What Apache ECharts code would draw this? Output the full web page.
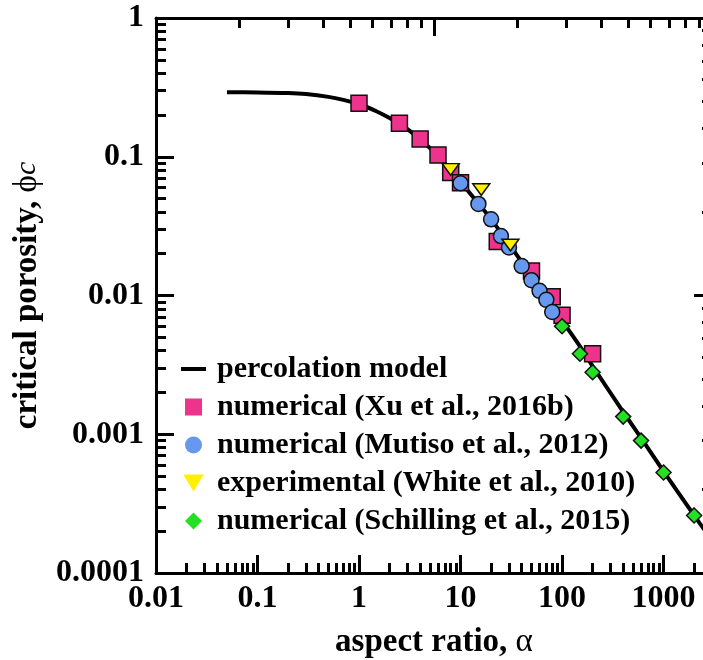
<!DOCTYPE html>
<html>
<head>
<meta charset="utf-8">
<script src="https://cdn.jsdelivr.net/npm/echarts@6/dist/echarts.min.js"></script>
<style>
html,body{margin:0;padding:0;background:#fff;}
#chart{width:703px;height:660px;}
</style>
</head>
<body>
<div id="chart"></div>
<script>
// ---- data ----
const modelAlpha = [0.05, 0.1, 0.2, 0.3, 0.5, 0.7, 1, 1.5, 2, 2.5, 3, 4, 6, 8, 10, 15, 20, 30, 50, 70, 100, 150, 200, 400, 600, 1000, 2000, 3000];
const modelPhi   = [0.292, 0.291, 0.288, 0.283, 0.270, 0.257, 0.240, 0.212, 0.190, 0.172, 0.158, 0.133, 0.102, 0.080, 0.066, 0.046, 0.0355, 0.0235, 0.0139, 0.0098, 0.0066, 0.0043, 0.0031, 0.00145, 0.00094, 0.00054, 0.00026, 0.000172];

const xuAlpha = [1, 2.5, 4, 6, 8, 10, 23, 50, 80, 100, 200];
const xuPhi   = [0.243, 0.174, 0.134, 0.103, 0.077, 0.065, 0.0245, 0.0150, 0.0098, 0.0072, 0.0038];

const mutisoAlpha = [10, 15, 20, 25, 30, 40, 50, 60, 70, 80];
const mutisoPhi   = [0.0644, 0.0457, 0.0354, 0.0268, 0.0222, 0.0163, 0.0129, 0.0108, 0.0093, 0.0076];

const whiteAlpha = [8, 16, 31];
const whitePhi   = [0.081, 0.058, 0.0231];

const schillingAlpha = [100, 150, 200, 400, 600, 1000, 2000];
const schillingPhi   = [0.0060, 0.0038, 0.0028, 0.00134, 0.00090, 0.00053, 0.00026];

const xTickValues = [0.01, 0.1, 1, 10, 100, 1000];
const xTickLabels = ['0.01', '0.1', '1', '10', '100', '1000'];
const yTickValues = [0.0001, 0.001, 0.01, 0.1, 1];
const yTickLabels = ['0.0001', '0.001', '0.01', '0.1', '1'];
const xMinorValues = [0.02,0.03,0.04,0.05,0.06,0.07,0.08,0.09, 0.2,0.3,0.4,0.5,0.6,0.7,0.8,0.9, 2,3,4,5,6,7,8,9, 20,30,40,50,60,70,80,90, 200,300,400,500,600,700,800,900, 2000];
const yMinorValues = [0.0002,0.0003,0.0004,0.0005,0.0006,0.0007,0.0008,0.0009, 0.002,0.003,0.004,0.005,0.006,0.007,0.008,0.009, 0.02,0.03,0.04,0.05,0.06,0.07,0.08,0.09, 0.2,0.3,0.4,0.5,0.6,0.7,0.8,0.9];
// secondary (top / right) frame axes
const frameMajor = [10];
const frameMinor = [2,3,4,5,6,7,8,9, 20,30,40,50,60,70,80,90];

const names = ['percolation model', 'numerical (Xu et al., 2016b)', 'numerical (Mutiso et al., 2012)', 'experimental (White et al., 2010)', 'numerical (Schilling et al., 2015)'];

// ---- chart ----
const FONT = '"Liberation Serif", "Times New Roman", serif';
const pairs = (a, b) => a.map((v, i) => [v, b[i]]);
function labelFor(values, labels) {
  return function (v) {
    for (let i = 0; i < values.length; i++) {
      if (Math.abs(Math.log10(v) - Math.log10(values[i])) < 1e-6) return labels[i];
    }
    return '';
  };
}
const tickLine = { color: '#000', width: 3 };
const SQUARE = 'path://M0,0L10,0L10,10L0,10Z';
const TRI_DOWN = 'path://M0,0L12,0L6,10Z';
const DIAMOND = 'path://M5,0L10,5L5,10L0,5Z';

const chart = echarts.init(document.getElementById('chart'), null, { renderer: 'canvas' });
chart.setOption({
  animation: false,
  backgroundColor: '#fff',
  grid: { left: 156, top: 18, right: -9, bottom: 87, containLabel: false, outerBoundsMode: 'none' },
  legend: {
    orient: 'vertical', left: 174, top: 349,
    itemWidth: 25, itemHeight: 17, itemGap: 8,
    itemStyle: { borderWidth: 0 },
    data: [
      { name: names[0], itemStyle: { opacity: 0 }, lineStyle: { color: '#000', width: 4, opacity: 1 } },
      names[1], names[2], names[3], names[4]
    ],
    textStyle: { fontFamily: FONT, fontSize: 30, fontWeight: 'bold', color: '#000', lineHeight: 30, padding: [0, 0, 0, 6] }
  },
  xAxis: [
    {
      type: 'log', logBase: 10, min: 0.01, max: 3000, position: 'bottom',
      name: 'aspect ratio, {g|α}', nameLocation: 'middle', nameGap: 53, nameMoveOverlap: false,
      nameTextStyle: { fontFamily: FONT, fontSize: 33, fontWeight: 'bold', color: '#000',
        rich: { g: { fontFamily: FONT, fontSize: 33, fontWeight: 'normal', color: '#000' } } },
      axisLine: { show: true, onZero: false, lineStyle: { color: '#000', width: 3 } },
      axisTick: { show: true, inside: true, length: 18, lineStyle: tickLine, customValues: xTickValues },
      axisLabel: { show: true, margin: 10, fontFamily: FONT, fontSize: 32, fontWeight: 'bold', color: '#000',
        customValues: xTickValues, formatter: labelFor(xTickValues, xTickLabels) },
      splitLine: { show: false }
    },
    {
      type: 'log', logBase: 10, min: 0.01, max: 3000, position: 'bottom',
      axisLine: { show: false }, axisLabel: { show: false }, splitLine: { show: false },
      axisTick: { show: true, inside: true, length: 10, lineStyle: tickLine, customValues: xMinorValues }
    },
    {
      type: 'log', logBase: 10, min: 1, max: 100, position: 'top',
      axisLine: { show: true, onZero: false, lineStyle: { color: '#000', width: 3 } },
      axisLabel: { show: false }, splitLine: { show: false },
      axisTick: { show: true, inside: true, length: 18, lineStyle: tickLine, customValues: frameMajor }
    },
    {
      type: 'log', logBase: 10, min: 1, max: 100, position: 'top',
      axisLine: { show: false }, axisLabel: { show: false }, splitLine: { show: false },
      axisTick: { show: true, inside: true, length: 10, lineStyle: tickLine, customValues: frameMinor }
    }
  ],
  yAxis: [
    {
      type: 'log', logBase: 10, min: 0.0001, max: 1, position: 'left',
      name: 'critical porosity, {g|ϕ}{s|c}', nameLocation: 'middle', nameGap: 112, nameMoveOverlap: false,
      nameTextStyle: { fontFamily: FONT, fontSize: 33, fontWeight: 'bold', color: '#000',
        rich: {
          g: { fontFamily: FONT, fontSize: 33, fontWeight: 'normal', color: '#000' },
          s: { fontFamily: FONT, fontSize: 30, fontWeight: 'normal', fontStyle: 'italic', color: '#000' }
        } },
      axisLine: { show: true, onZero: false, lineStyle: { color: '#000', width: 3 } },
      axisTick: { show: true, inside: true, length: 18, lineStyle: tickLine, customValues: yTickValues },
      axisLabel: { show: true, margin: 12, fontFamily: FONT, fontSize: 32, fontWeight: 'bold', color: '#000',
        customValues: yTickValues, formatter: labelFor(yTickValues, yTickLabels) },
      splitLine: { show: false }
    },
    {
      type: 'log', logBase: 10, min: 0.0001, max: 1, position: 'left',
      axisLine: { show: false }, axisLabel: { show: false }, splitLine: { show: false },
      axisTick: { show: true, inside: true, length: 10, lineStyle: tickLine, customValues: yMinorValues }
    },
    {
      type: 'log', logBase: 10, min: 1, max: 100, position: 'right',
      axisLine: { show: true, onZero: false, lineStyle: { color: '#000', width: 3 } },
      axisLabel: { show: false }, splitLine: { show: false },
      axisTick: { show: true, inside: true, length: 18, lineStyle: tickLine, customValues: frameMajor }
    },
    {
      type: 'log', logBase: 10, min: 1, max: 100, position: 'right',
      axisLine: { show: false }, axisLabel: { show: false }, splitLine: { show: false },
      axisTick: { show: true, inside: true, length: 10, lineStyle: tickLine, customValues: frameMinor }
    }
  ],
  series: [
    {
      name: names[0], type: 'line', xAxisIndex: 0, yAxisIndex: 0,
      data: pairs(modelAlpha, modelPhi), symbol: 'none', smooth: 0.3,
      lineStyle: { color: '#000', width: 4 }, itemStyle: { color: '#000' }, z: 2
    },
    {
      name: names[1], type: 'scatter', xAxisIndex: 0, yAxisIndex: 0,
      data: pairs(xuAlpha, xuPhi), symbol: SQUARE, symbolKeepAspect: true, symbolSize: 16,
      itemStyle: { color: '#EE338C', borderColor: '#111', borderWidth: 1.5, opacity: 1 }, z: 3
    },
    {
      name: names[2], type: 'scatter', xAxisIndex: 0, yAxisIndex: 0,
      data: pairs(mutisoAlpha, mutisoPhi), symbol: 'circle', symbolSize: 15,
      itemStyle: { color: '#6699EE', borderColor: '#111', borderWidth: 1.5, opacity: 1 }, z: 4
    },
    {
      name: names[3], type: 'scatter', xAxisIndex: 0, yAxisIndex: 0,
      data: pairs(whiteAlpha, whitePhi), symbol: TRI_DOWN, symbolKeepAspect: true, symbolSize: [17, 14],
      itemStyle: { color: '#FFF000', borderColor: '#111', borderWidth: 1.5, opacity: 1 }, z: 5
    },
    {
      name: names[4], type: 'scatter', xAxisIndex: 0, yAxisIndex: 0,
      data: pairs(schillingAlpha, schillingPhi), symbol: DIAMOND, symbolKeepAspect: true, symbolSize: 15,
      itemStyle: { color: '#22E022', borderColor: '#111', borderWidth: 1.5, opacity: 1 }, z: 6
    }
  ]
});
</script>
</body>
</html>
